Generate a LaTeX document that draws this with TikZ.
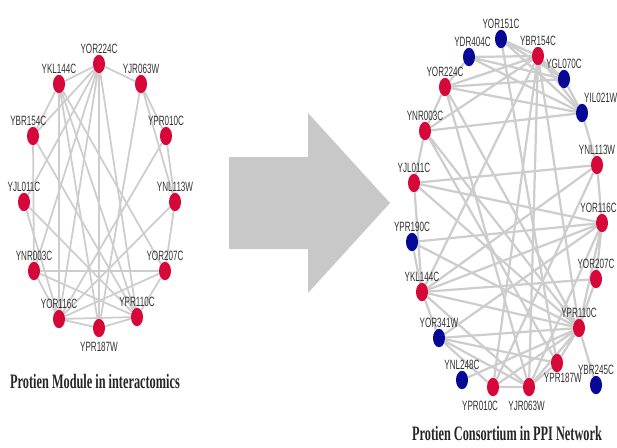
\documentclass[tikz,border=0pt]{standalone}
\usepackage{fontspec}
\usepackage{tikz}
\usetikzlibrary{shapes.geometric, backgrounds}
\newfontfamily\lblfont[FakeStretch=0.6]{Liberation Sans}
\newfontfamily\titlefont[FakeStretch=0.6]{Liberation Serif}
\definecolor{nodered}{RGB}{214,8,58}
\definecolor{nodeblue}{RGB}{6,8,150}
\definecolor{edgegray}{RGB}{205,205,205}
\definecolor{arrowgray}{RGB}{200,200,200}

\begin{document}
\begin{tikzpicture}[x=0.03cm, y=-0.03cm]
    % Define styles
    \tikzstyle{prot} = [ellipse, fill=nodered, inner sep=0pt,
                        minimum width=0.36cm, minimum height=0.55cm,
                        label distance=0.5pt]
    \tikzstyle{extra} = [prot, fill=nodeblue]
    \tikzstyle{edge} = [edgegray, line width=1.5pt]
    \tikzstyle{lbl} = [font=\lblfont\fontsize{11.5}{12}\selectfont,
                       text=black!80, inner sep=1pt]
    \tikzstyle{ttl} = [font=\titlefont\bfseries\fontsize{17.5}{19}\selectfont,
                       text=black!85]
    \tikzset{every label/.style=lbl}

    \useasboundingbox (0,0) rectangle (617,447);

    % Module nodes
    \node[prot, label={YOR224C}] (myor224c) at (99,64) {};
    \node[prot, label={YKL144C}] (mykl144c) at (59,84) {};
    \node[prot, label={YJR063W}] (myjr063w) at (141,84) {};
    \node[prot, label={[xshift=-4pt]above:YBR154C}] (mybr154c) at (33,136) {};
    \node[prot, label={YPR010C}] (mypr010c) at (166,136) {};
    \node[prot, label={YJL011C}] (myjl011c) at (24,202) {};
    \node[prot, label={YNL113W}] (mynl113w) at (175,202) {};
    \node[prot, label={YNR003C}] (mynr003c) at (34,271) {};
    \node[prot, label={YOR207C}] (myor207c) at (165,271) {};
    \node[prot, label={YOR116C}] (myor116c) at (59,319) {};
    \node[prot, label={YPR110C}] (mypr110c) at (137,317) {};
    \node[prot, label={[label distance=3pt]below:YPR187W}] (mypr187w) at (99,328) {};

    % Module edges
    \begin{scope}[on background layer]
    \draw[edge] (myor224c) -- (mykl144c) (myor224c) -- (myjr063w)
                (myor224c) -- (mybr154c) (myor224c) -- (myjl011c)
                (myor224c) -- (mynr003c) (myor224c) -- (myor116c)
                (myor224c) -- (mypr187w) (myor224c) -- (mypr110c);
    \draw[edge] (mykl144c) -- (mybr154c) (mykl144c) -- (myor116c)
                (mykl144c) -- (mypr110c) (mykl144c) -- (myor207c)
                (mykl144c) -- (mypr187w);
    \draw[edge] (myjr063w) -- (mypr010c) (myjr063w) -- (mynl113w)
                (myjr063w) -- (mypr187w);
    \draw[edge] (mybr154c) -- (mynr003c) (mybr154c) -- (mypr110c);
    \draw[edge] (mypr010c) -- (mynl113w) (mypr010c) -- (myor116c);
    \draw[edge] (myjl011c) -- (myor116c) (myjl011c) -- (mypr110c);
    \draw[edge] (mynl113w) -- (myor207c) (mynl113w) -- (myor116c);
    \draw[edge] (mynr003c) -- (myor207c) (mynr003c) -- (mypr110c)
                (mynr003c) -- (myor116c);
    \draw[edge] (myor207c) -- (myor116c) (myor207c) -- (mypr110c);
    \draw[edge] (myor116c) -- (mypr110c) (myor116c) -- (mypr187w)
                (mypr187w) -- (mypr110c);
    \end{scope}

    % Big arrow
    \fill[arrowgray] (229,157) -- (308,157) -- (308,113) -- (390,203)
        -- (308,293) -- (308,249) -- (229,249) -- cycle;

    % Consortium nodes
    \node[extra, label={YOR151C}] (cyor151c) at (501,39) {};
    \node[extra, label={[xshift=3pt]above:YDR404C}] (cydr404c) at (469,57) {};
    \node[prot, label={YBR154C}] (cybr154c) at (538,56) {};
    \node[extra, label={YGL070C}] (cygl070c) at (564,79) {};
    \node[prot, label={YOR224C}] (cyor224c) at (445,87) {};
    \node[extra, label={[xshift=16pt]above:YIL021W}] (cyil021w) at (582,113) {};
    \node[prot, label={YNR003C}] (cynr003c) at (425,131) {};
    \node[prot, label={YNL113W}] (cynl113w) at (597,165) {};
    \node[prot, label={YJL011C}] (cyjl011c) at (414,183) {};
    \node[prot, label={[xshift=-3pt]above:YOR116C}] (cyor116c) at (602,223) {};
    \node[extra, label={YPR190C}] (cypr190c) at (412,242) {};
    \node[prot, label={YOR207C}] (cyor207c) at (596,279) {};
    \node[prot, label={YKL144C}] (cykl144c) at (422,292) {};
    \node[prot, label={YPR110C}] (cypr110c) at (579,328) {};
    \node[extra, label={YOR341W}] (cyor341w) at (439,338) {};
    \node[prot, label={[xshift=5pt, label distance=-1pt]below:YPR187W}] (cypr187w) at (557,363) {};
    \node[extra, label={YNL248C}] (cynl248c) at (462,380) {};
    \node[extra, label={YBR245C}] (cybr245c) at (596,385) {};
    \node[prot, label={[xshift=-11pt, label distance=3pt]below:YPR010C}] (cypr010c) at (493,387) {};
    \node[prot, label={[xshift=-2pt, label distance=3pt]below:YJR063W}] (cyjr063w) at (529,387) {};

    % Consortium edges
    \begin{scope}[on background layer, edge/.style={edgegray, line width=1.9pt}]
    \draw[edge] (cyor151c) -- (cybr154c) (cyor151c) -- (cygl070c)
                (cyor151c) -- (cyil021w) (cyor151c) -- (cypr187w);
    \draw[edge] (cydr404c) -- (cyor224c) (cydr404c) -- (cybr154c)
                (cydr404c) -- (cygl070c) (cydr404c) -- (cyil021w);
    \draw[edge] (cybr154c) -- (cyor224c) (cybr154c) -- (cygl070c)
                (cybr154c) -- (cyil021w) (cybr154c) -- (cynr003c)
                (cybr154c) -- (cykl144c) (cybr154c) -- (cypr010c)
                (cybr154c) -- (cyjr063w) (cybr154c) -- (cypr110c);
    \draw[edge] (cygl070c) -- (cyor224c) (cygl070c) -- (cyil021w);
    \draw[edge] (cyor224c) -- (cyil021w) (cyor224c) -- (cynr003c)
                (cyor224c) -- (cypr110c) (cyor224c) -- (cyjr063w);
    \draw[edge] (cyil021w) -- (cynl113w) (cyil021w) -- (cynr003c);
    \draw[edge] (cynr003c) -- (cyjl011c) (cynr003c) -- (cypr110c)
                (cynr003c) -- (cypr187w);
    \draw[edge] (cynl113w) -- (cyor116c) (cynl113w) -- (cykl144c)
                (cynl113w) -- (cypr010c) (cynl113w) -- (cyjl011c);
    \draw[edge] (cyjl011c) -- (cykl144c) (cyjl011c) -- (cyor116c)
                (cyjl011c) -- (cypr110c);
    \draw[edge] (cyor116c) -- (cypr190c) (cyor116c) -- (cykl144c)
                (cyor116c) -- (cyor207c) (cyor116c) -- (cypr110c)
                (cyor116c) -- (cyor341w) (cyor116c) -- (cyjr063w);
    \draw[edge] (cypr190c) -- (cypr110c) (cypr190c) -- (cykl144c);
    \draw[edge] (cyor207c) -- (cykl144c) (cyor207c) -- (cypr110c);
    \draw[edge] (cykl144c) -- (cypr110c) (cykl144c) -- (cyor341w)
                (cykl144c) -- (cyjr063w);
    \draw[edge] (cypr110c) -- (cyor341w) (cypr110c) -- (cypr187w)
                (cypr110c) -- (cybr245c) (cypr110c) -- (cyjr063w)
                (cypr110c) -- (cypr010c) (cypr110c) -- (cynl248c);
    \draw[edge] (cyor341w) -- (cypr187w) (cyor341w) -- (cyjr063w)
                (cyor341w) -- (cypr010c);
    \draw[edge] (cypr010c) -- (cyjr063w) (cyjr063w) -- (cypr187w);
    \end{scope}

    % Titles
    \node[ttl] (modtitle) at (95,382) {Protien Module in interactomics};
    \node[ttl] (constitle) at (507,434) {Protien Consortium in PPI Network};
\end{tikzpicture}
\end{document}
